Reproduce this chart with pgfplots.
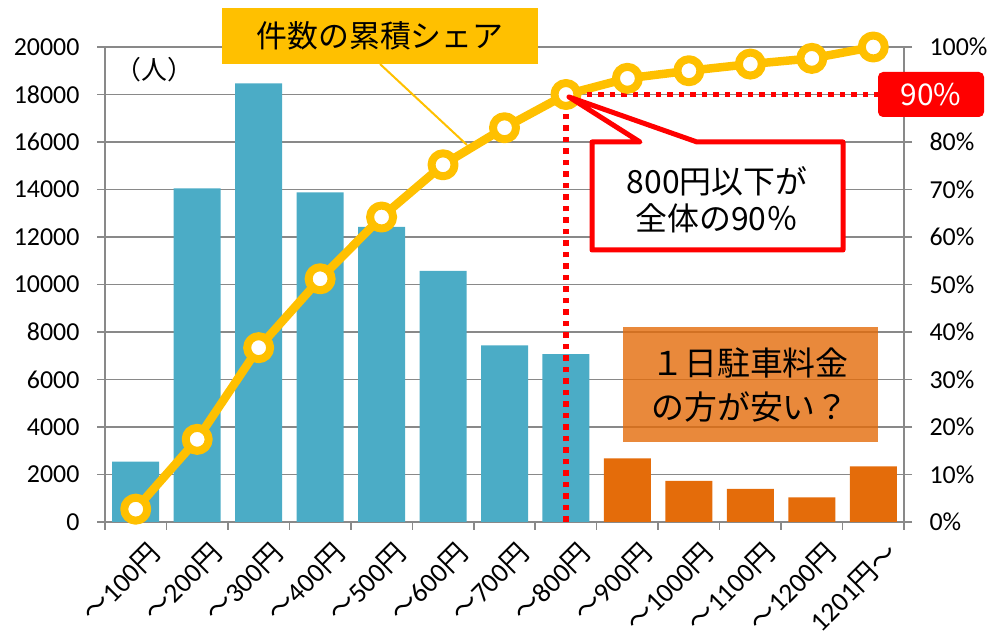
\documentclass[border=0pt]{standalone}
\usepackage{pgfplots}
\pgfplotsset{compat=1.18}
\usepackage{fontspec}
\setmainfont{Carlito}
\newfontfamily\cjk{Noto Sans CJK JP}
\definecolor{barblue}{HTML}{4BACC6}
\definecolor{barorange}{HTML}{E46C0A}
\definecolor{lineyellow}{HTML}{FFC000}
\definecolor{gridgray}{HTML}{898989}
\begin{document}
\begin{tikzpicture}[x=1bp,y=1bp]
\useasboundingbox (-105,-110) rectangle (890,522);
\begin{axis}[
  at={(0,0)}, anchor=south west,
  width=799bp, height=475bp, scale only axis,
  xmin=-0.5, xmax=12.5, ymin=0, ymax=20000,
  axis x line*=bottom, axis y line*=left,
  axis line style={gridgray, line width=1.5bp},
  ytick={0,2000,...,20000},
  ymajorgrids, major grid style={gridgray, line width=1.5bp},
  xtick={0,...,12},
  xticklabels={{\cjk ～}100{\cjk 円},{\cjk ～}200{\cjk 円},{\cjk ～}300{\cjk 円},{\cjk ～}400{\cjk 円},{\cjk ～}500{\cjk 円},{\cjk ～}600{\cjk 円},{\cjk ～}700{\cjk 円},{\cjk ～}800{\cjk 円},{\cjk ～}900{\cjk 円},{\cjk ～}1000{\cjk 円},{\cjk ～}1100{\cjk 円},{\cjk ～}1200{\cjk 円},1201{\cjk 円～}},
  minor xtick={-0.5,0.5,...,12.5},
  tick align=outside,
  major tick length=8bp, minor tick length=8bp,
  tick style={gridgray, line width=1.5bp},
  major x tick style={draw=none},
  /pgf/number format/assume math mode=true,
  /pgf/number format/1000 sep={},
  scaled y ticks=false,
  yticklabel style={font=\fontsize{26}{30}\selectfont, xshift=-14bp},
  xticklabel style={font=\fontsize{27.5}{32}\selectfont, rotate=45, anchor=east, inner sep=0pt, yshift=-27bp, xshift=1bp},
  clip=false,
]
\addplot[ybar, bar width=47bp, bar shift=0pt, fill=barblue, draw=none] coordinates {(0,2540) (1,14050) (2,18470) (3,13880) (4,12430) (5,10570) (6,7440) (7,7070)};
\addplot[ybar, bar width=47bp, bar shift=0pt, fill=barorange, draw=none] coordinates {(8,2680) (9,1730) (10,1390) (11,1040) (12,2345)};
\node[font=\cjk\fontsize{26}{30}\selectfont] at (axis cs:0.31,19050) {（人）};
\end{axis}
\begin{axis}[
  at={(0,0)}, anchor=south west,
  width=799bp, height=475bp, scale only axis,
  xmin=-0.5, xmax=12.5, ymin=0, ymax=100,
  axis x line=none, axis y line*=right,
  axis line style={gridgray, line width=1.5bp},
  ytick={0,10,...,100},
  yticklabels={0\%,10\%,20\%,30\%,40\%,50\%,60\%,70\%,80\%,90\%,100\%},
  tick align=outside, major tick length=8bp,
  tick style={gridgray, line width=1.5bp},
  yticklabel style={font=\fontsize{26}{30}\selectfont, xshift=14bp},
  clip=false,
]
\addplot[lineyellow, line width=8.5bp, line join=round, mark=*, mark size=11.5bp, mark options={fill=white, draw=lineyellow, line width=8bp}] coordinates {(0,2.7) (1,17.4) (2,36.7) (3,51.2) (4,64.2) (5,75.2) (6,83.0) (7,90.0) (8,93.4) (9,95.0) (10,96.4) (11,97.6) (12,100)};
\draw[red, line width=5.5bp, dash pattern=on 5.5bp off 6bp] (axis cs:7,0) -- (axis cs:7,90) -- (axis cs:12.5,90);
\end{axis}
% annotations
\draw[lineyellow, line width=2bp] (275,458) -- (362,377);
\fill[lineyellow] (117,458) rectangle (433,514);
\node[font=\cjk\fontsize{31}{36}\selectfont] at (275,486) {件数の累積シェア};
\draw[red, line width=5bp, fill=white, line join=round] (487,380) -- (535,380) -- (464,425) -- (592,380) -- (738,380) -- (738,272) -- (487,272) -- cycle;
\node[font=\cjk\fontsize{32}{37}\selectfont, align=center] at (612,322) {800円以下が\\全体の90％};
\fill[red, rounded corners=5bp] (773,405) rectangle (879,450);
\node[white, font=\cjk\fontsize{30}{36}\selectfont] at (826,427.5) {90\%};
\fill[barorange, fill opacity=0.8] (518,80) rectangle (773,195);
\node[font=\cjk\fontsize{33}{44}\selectfont, align=center] at (645,137) {１日駐車料金\\の方が安い？};
\end{tikzpicture}
\end{document}
